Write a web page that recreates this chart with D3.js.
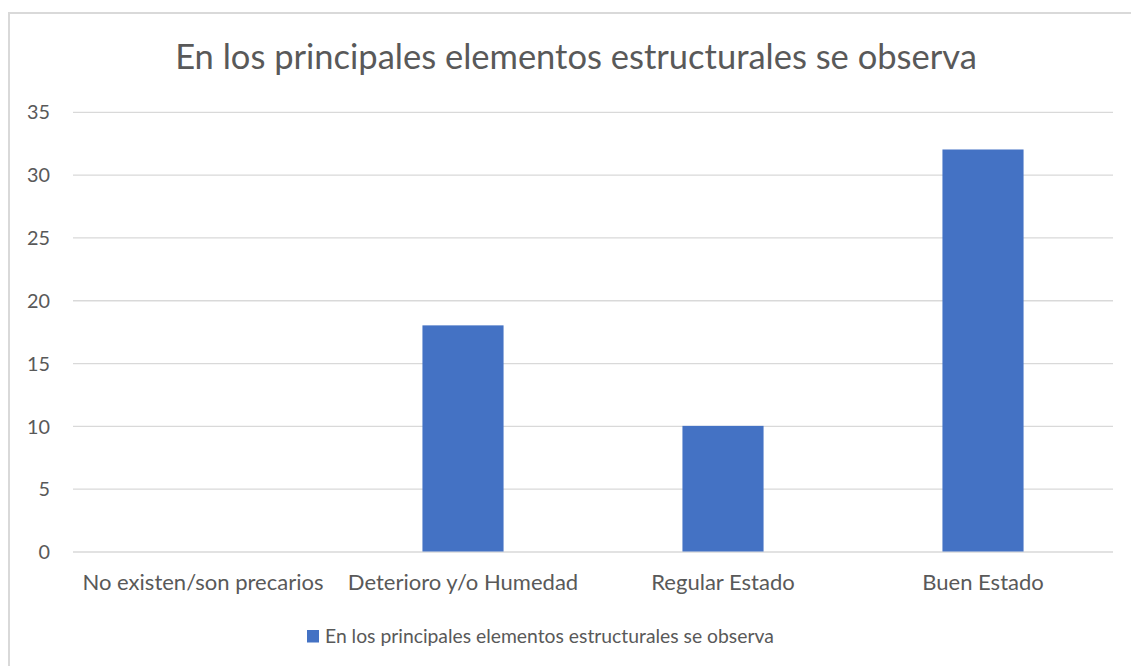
<!DOCTYPE html>
<html>
<head>
<meta charset="utf-8">
<script src="https://cdn.jsdelivr.net/npm/d3@7"></script>
<style>
  html, body { margin: 0; padding: 0; background: #ffffff; }
  svg { display: block; }
  text { font-family: Lato, "Open Sans", sans-serif; fill: #595959; }
</style>
</head>
<body>
<svg id="chart" width="1131" height="666"></svg>
<script>
// Data
const categories = ["No existen/son precarios", "Deterioro y/o Humedad", "Regular Estado", "Buen Estado"];
const values = [0, 18, 10, 32];
const seriesName = "En los principales elementos estructurales se observa";
const chartTitle = "En los principales elementos estructurales se observa";
const yTicks = [0, 5, 10, 15, 20, 25, 30, 35];

const W = 1131, H = 666;
const plot = { left: 73, right: 1113, top: 111.8, bottom: 551.5 };
const barColor = "#4472C4";
const gridColor = "#d9d9d9";

const svg = d3.select("#chart");

// Size a text selection so that its rendered width equals the wanted width
function fitWidth(sel, wanted) {
  sel.style("font-size", "20px");
  const w = sel.node().getComputedTextLength();
  sel.style("font-size", (20 * wanted / w) + "px");
}

// Chart area frame
svg.append("rect")
  .attr("x", 9).attr("y", 13)
  .attr("width", W + 20).attr("height", H + 20)
  .attr("fill", "#ffffff")
  .attr("stroke", gridColor).attr("stroke-width", 2);

const x = d3.scaleBand()
  .domain(categories)
  .range([plot.left, plot.right])
  .paddingInner(0.688)
  .paddingOuter(0.344);

const y = d3.scaleLinear()
  .domain([0, 35])
  .range([plot.bottom, plot.top]);

// Horizontal gridlines + y labels via axis
const yAxis = d3.axisLeft(y)
  .tickValues(yTicks)
  .tickSize(-(plot.right - plot.left))
  .tickPadding(23);

const gy = svg.append("g")
  .attr("transform", `translate(${plot.left},0)`)
  .call(yAxis);
gy.select(".domain").remove();
gy.selectAll(".tick line")
  .attr("stroke", gridColor)
  .attr("stroke-width", 1.3);
gy.selectAll(".tick text")
  .attr("fill", "#595959")
  .attr("dy", "0.36em")
  .style("font-family", "Lato, 'Open Sans', sans-serif");
// scale labels to a consistent size
(function () {
  const t = gy.selectAll(".tick text").filter(d => d === 35);
  fitWidth(t, 23);
  const fs = t.style("font-size");
  gy.selectAll(".tick text").style("font-size", fs);
})();

// Bars
svg.append("g")
  .selectAll("rect")
  .data(categories.map((c, i) => ({ c, v: values[i] })))
  .join("rect")
  .attr("x", d => x(d.c))
  .attr("width", x.bandwidth())
  .attr("y", d => y(d.v))
  .attr("height", d => y(0) - y(d.v))
  .attr("fill", barColor);

// Category axis labels
const xAxis = d3.axisBottom(x).tickSize(0).tickPadding(0);
const gx = svg.append("g")
  .attr("transform", `translate(0,${plot.bottom})`)
  .call(xAxis);
gx.select(".domain").remove();
gx.selectAll(".tick text")
  .attr("y", 38.5)
  .attr("dy", 0)
  .attr("fill", "#595959")
  .style("font-family", "Lato, 'Open Sans', sans-serif");
(function () {
  const t = gx.selectAll(".tick text").filter(d => d === categories[0]);
  fitWidth(t, 241);
  const fs = t.style("font-size");
  gx.selectAll(".tick text").style("font-size", fs);
})();

// Title
const title = svg.append("text")
  .attr("x", 576)
  .attr("y", 68.5)
  .attr("text-anchor", "middle")
  .text(chartTitle);
fitWidth(title, 802);

// Legend
const legend = svg.append("g");
legend.append("rect")
  .attr("x", 307).attr("y", 630)
  .attr("width", 12).attr("height", 12.5)
  .attr("fill", barColor);
const legText = legend.append("text")
  .attr("x", 325)
  .attr("y", 643)
  .text(seriesName);
fitWidth(legText, 449);
</script>
</body>
</html>
